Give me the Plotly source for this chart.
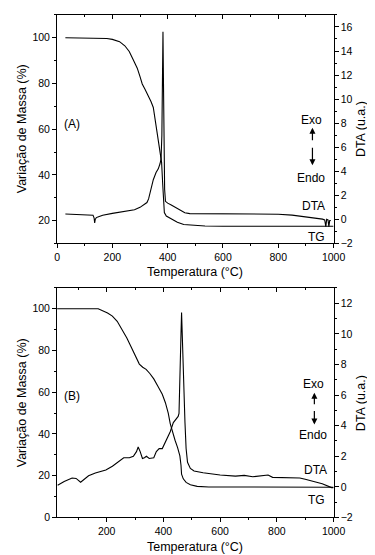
import plotly.graph_objects as go
from plotly.subplots import make_subplots

# ---------------- data: panel (A) ----------------
tgA_T = [30, 100, 150, 180, 200, 226, 245, 261, 275, 290, 300, 308, 318, 331, 340, 348,
         355, 362, 368, 374, 378, 382, 385, 388, 395, 413, 435, 458, 500, 535, 600, 1000]
tgA_v = [100, 100, 100, 99.7, 99.3, 98.3, 96.5, 94, 90.5, 86.7, 83, 79.8, 77.5, 74.6, 72, 69.5,
         64, 57, 52, 48, 45.5, 36, 27, 23.5, 22, 20.9, 19.3, 18.3, 17.8, 17.6, 17.5, 17.5]

dtaA_T = [30, 80, 120, 130, 134, 136, 138, 142, 150, 165, 200, 240, 280, 300, 315, 325,
          331, 340, 348, 358, 366, 372, 376, 379, 381, 383, 385, 387, 389, 392, 400, 413,
          424, 435, 447, 462, 480, 600, 700, 760, 800, 850, 900, 940, 960, 968, 972, 975,
          980, 983, 986, 990]
dtaA_v = [0.45, 0.42, 0.38, 0.35, 0.1, -0.3, 0.0, 0.15, 0.22, 0.35, 0.5, 0.65, 0.8, 1.0, 1.2, 1.4,
          1.7, 2.5, 3.3, 3.9, 4.2, 4.6, 5.0, 7.0, 11.0, 15.6, 11.0, 6.0, 2.5, 1.5, 1.35, 1.2,
          1.05, 0.9, 0.72, 0.55, 0.48, 0.47, 0.46, 0.48, 0.43, 0.35, 0.22, 0.1, 0.02, -0.05, -0.6, 0.0,
          -0.05, -0.6, -0.1, -0.1]

# ---------------- data: panel (B) ----------------
tgB_T = [25, 150, 170, 203, 220, 237, 255, 271, 285, 298, 307, 315, 327, 339, 352, 366,
         380, 396, 407, 417, 424, 432, 441, 450, 458, 462, 464, 470, 480, 495, 519, 560, 1000]
tgB_v = [100, 100, 100, 98, 96.5, 94, 90, 86, 82, 78, 75.5, 73.5, 72, 71, 69, 66.4,
         63, 59, 55, 50, 45, 41, 37, 33.5, 29.5, 25, 20.7, 18.5, 16.8, 15.7, 14.9, 14.6, 14.5]

dtaB_T = [27, 50, 78, 92, 108, 120, 136, 160, 197, 220, 248, 260, 280, 294, 305, 311,
          318, 326, 333, 340, 350, 366, 375, 385, 396, 410, 424, 435, 445, 452, 455, 459,
          462, 464, 468, 472, 476, 480, 485, 495, 508, 540, 600, 654, 685, 715, 750, 769,
          785, 830, 881, 900, 925, 960, 993, 1000]
dtaB_v = [0.1, 0.35, 0.58, 0.55, 0.3, 0.5, 0.72, 0.9, 1.1, 1.35, 1.75, 1.9, 1.9, 2.0, 2.3, 2.6,
          2.3, 1.85, 1.9, 2.0, 1.85, 1.9, 2.3, 2.5, 2.5, 3.0, 3.6, 4.2, 4.4, 4.6, 4.8, 7.0,
          10.0, 11.4, 8.5, 6.0, 4.2, 2.5, 1.6, 1.2, 1.03, 0.92, 0.77, 0.7, 0.75, 0.66, 0.7, 0.77,
          0.62, 0.6, 0.58, 0.5, 0.38, 0.2, -0.05, -0.05]

W, H = 375, 555
FONT = "Liberation Sans, Arial, sans-serif"


def px(x):
    return x / W


def py(y):
    return 1 - y / H


fig = make_subplots(rows=2, cols=1, specs=[[{"secondary_y": True}], [{"secondary_y": True}]])
line = dict(color="black", width=1.1)
fig.add_trace(go.Scatter(x=tgA_T, y=tgA_v, mode="lines", line=line, showlegend=False), row=1, col=1, secondary_y=False)
fig.add_trace(go.Scatter(x=dtaA_T, y=dtaA_v, mode="lines", line=line, showlegend=False), row=1, col=1, secondary_y=True)
fig.add_trace(go.Scatter(x=tgB_T, y=tgB_v, mode="lines", line=line, showlegend=False), row=2, col=1, secondary_y=False)
fig.add_trace(go.Scatter(x=dtaB_T, y=dtaB_v, mode="lines", line=line, showlegend=False), row=2, col=1, secondary_y=True)

xdomA = [px(48), px(336)]
ydomA = [py(238), py(7)]
ydomB = [py(515), py(283)]

tickfont = dict(family=FONT, size=10.5, color="black")
common = dict(showline=True, linecolor="black", linewidth=1, showgrid=False, zeroline=False,
              tickfont=tickfont, ticks="outside", ticklen=4, tickcolor="black", tickwidth=1)

fig.update_layout(
    width=W, height=H, margin=dict(l=0, r=0, t=0, b=0),
    paper_bgcolor="white", plot_bgcolor="white", showlegend=False,
    font=dict(family=FONT, color="black"),
    xaxis=dict(domain=xdomA, range=[0, 1000], dtick=200, mirror=True,
               minor=dict(dtick=100, ticks="outside", ticklen=2, tickcolor="black"), **common),
    yaxis=dict(domain=ydomA, range=[10, 110], tickvals=[20, 40, 60, 80, 100],
               minor=dict(dtick=10, ticks="outside", ticklen=2, tickcolor="black"), **common),
    yaxis2=dict(range=[-2, 17], dtick=2, side="right",
                minor=dict(dtick=1, ticks="outside", ticklen=2, tickcolor="black"), **common),
    xaxis2=dict(domain=xdomA, range=[25, 1000], tickvals=[200, 400, 600, 800, 1000], mirror=True,
                minor=dict(tickvals=[100, 300, 500, 700, 900], ticks="outside", ticklen=2, tickcolor="black"), **common),
    yaxis3=dict(domain=ydomB, range=[0, 110], tickvals=[0, 20, 40, 60, 80, 100],
                minor=dict(dtick=10, ticks="outside", ticklen=2, tickcolor="black"), **common),
    yaxis4=dict(range=[-2, 13], dtick=2, side="right",
                minor=dict(dtick=1, ticks="outside", ticklen=2, tickcolor="black"), **common),
    # top axes with inward ticks
    xaxis5=dict(overlaying="x", anchor="y", side="top", range=[0, 1000], dtick=200,
                showticklabels=False, showline=False, showgrid=False, zeroline=False,
                ticks="inside", ticklen=4, tickcolor="black",
                minor=dict(dtick=100, ticks="inside", ticklen=2, tickcolor="black")),
    xaxis6=dict(overlaying="x2", anchor="y3", side="top", range=[25, 1000],
                tickvals=[200, 400, 600, 800, 1000],
                showticklabels=False, showline=False, showgrid=False, zeroline=False,
                ticks="inside", ticklen=4, tickcolor="black",
                minor=dict(tickvals=[100, 300, 500, 700, 900], ticks="inside", ticklen=2, tickcolor="black")),
)
# invisible traces so the top axes are drawn
fig.add_trace(go.Scatter(x=[500], y=[50], xaxis="x5", yaxis="y", mode="markers",
                         marker=dict(opacity=0), hoverinfo="skip", showlegend=False))
fig.add_trace(go.Scatter(x=[500], y=[50], xaxis="x6", yaxis="y3", mode="markers",
                         marker=dict(opacity=0), hoverinfo="skip", showlegend=False))

ann = []
tfont = dict(family=FONT, size=12.5, color="black")
afont = dict(family=FONT, size=12, color="black")


def text(x, y, s, font=afont, angle=0):
    ann.append(dict(x=px(x), y=py(y), xref="paper", yref="paper", text=s, showarrow=False,
                    font=font, textangle=angle, xanchor="center", yanchor="middle"))


def arrow(x, y_tip, y_tail):
    ann.append(dict(x=px(x), y=py(y_tip), xref="paper", yref="paper", text="", showarrow=True,
                    ax=0, ay=y_tail - y_tip, arrowhead=2, arrowsize=1, arrowwidth=1.2, arrowcolor="black"))


# panel A labels
text(64, 117, "(A)")
text(313, 113, "Exo")
arrow(314, 121, 135)
arrow(314, 159, 140)
text(313, 172, "Endo")
text(315, 200, "DTA")
text(318, 232, "TG")
text(192, 267, "Temperatura (°C)", tfont)
text(11, 122, "Variação de Massa (%)", tfont, -90)
text(364, 122, "DTA (u.a.)", tfont, -90)

# panel B labels
text(64, 392, "(B)")
text(315, 380, "Exo")
arrow(316, 389, 402)
arrow(316, 421, 406)
text(315, 432, "Endo")
text(317, 467, "DTA")
text(318, 497, "TG")
text(192, 545, "Temperatura (°C)", tfont)
text(11, 399, "Variação de Massa (%)", tfont, -90)
text(364, 399, "DTA (u.a.)", tfont, -90)

fig.update_layout(annotations=ann)
fig.write_html("out.html")
